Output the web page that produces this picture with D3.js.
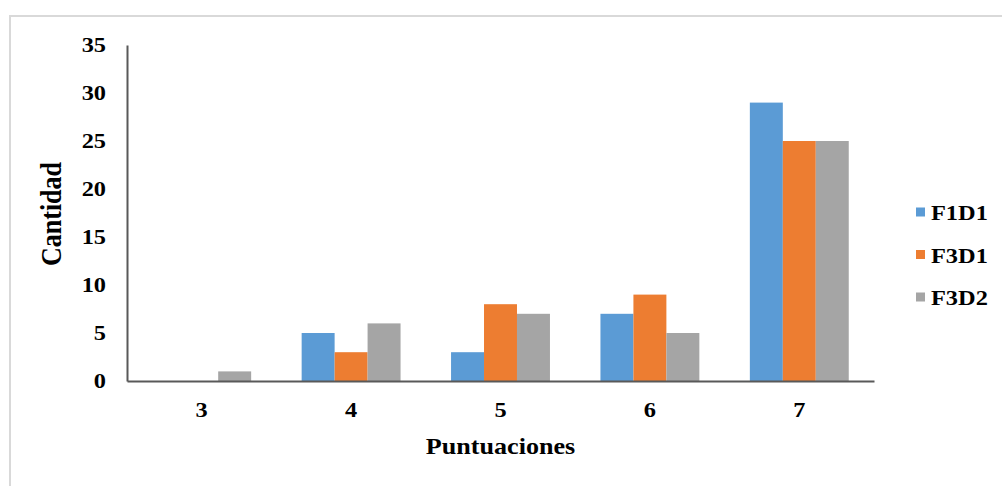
<!DOCTYPE html>
<html>
<head>
<meta charset="utf-8">
<script src="https://cdn.jsdelivr.net/npm/d3@7"></script>
<style>
  html, body { margin: 0; padding: 0; background: #fff; }
  svg { display: block; }
  svg text { font-family: "Liberation Serif", "Times New Roman", serif; font-weight: bold; fill: #000; }
</style>
</head>
<body>
<svg id="chart" width="1002" height="486"></svg>
<script>
const categories = ["3", "4", "5", "6", "7"];
const seriesNames = ["F1D1", "F3D1", "F3D2"];
const F1D1 = [0, 5, 3, 7, 29];
const F3D1 = [0, 3, 8, 9, 25];
const F3D2 = [1, 6, 7, 5, 25];
const yTicks = [0, 5, 10, 15, 20, 25, 30, 35];
const colors = ["#5b9bd5", "#ed7d31", "#a5a5a5"];

(function () {
const seriesValues = [F1D1, F3D1, F3D2];
const svg = d3.select("#chart");
const sx = 1.16;     // horizontal stretch of the reference text
const tickFont = 21;

// outer border
svg.append("rect").attr("x", 10).attr("y", 16).attr("width", 1000).attr("height", 480)
  .attr("fill", "none").attr("stroke", "#d9d9d9").attr("stroke-width", 2);

const mLeft = 127, mRight = 874, mTop = 45, mBottom = 381;

const x0 = d3.scaleBand().domain(categories).range([mLeft, mRight]).paddingInner(0.338).paddingOuter(0.169);
const x1 = d3.scaleBand().domain(seriesNames).range([0, x0.bandwidth()]);
const y = d3.scaleLinear().domain([0, 35]).range([mBottom, mTop]);

// bars
const groups = svg.append("g").selectAll("g").data(categories).join("g")
  .attr("transform", d => `translate(${x0(d)},0)`);
groups.selectAll("rect")
  .data((c, i) => seriesNames.map((s, j) => ({ s, j, v: seriesValues[j][i] })))
  .join("rect")
  .attr("x", d => x1(d.s))
  .attr("y", d => y(d.v))
  .attr("width", x1.bandwidth())
  .attr("height", d => y(0) - y(d.v))
  .attr("fill", d => colors[d.j]);

// y axis
const yAxis = d3.axisLeft(y).tickValues(yTicks).tickSize(0).tickPadding(21);
const gy = svg.append("g").attr("transform", `translate(${mLeft},0)`).call(yAxis);
gy.attr("font-family", null).attr("font-size", null);
gy.select(".domain").attr("stroke", "#595959").attr("stroke-width", 2);
gy.selectAll("text")
  .style("font-size", tickFont + "px")
  .attr("x", -21 / sx)
  .attr("transform", `scale(${sx},1)`);

// x axis
const xAxis = d3.axisBottom(x0).tickSize(0).tickPadding(21);
const gx = svg.append("g").attr("transform", `translate(0,${mBottom})`).call(xAxis);
gx.attr("font-family", null).attr("font-size", null);
gx.select(".domain").attr("stroke", "#595959").attr("stroke-width", 2);
gx.selectAll("text")
  .style("font-size", tickFont + "px")
  .attr("transform", `scale(${sx},1)`);

// axis titles
svg.append("text")
  .attr("transform", `translate(${(mLeft + mRight) / 2},454) scale(${sx},1)`)
  .attr("text-anchor", "middle").style("font-size", "22.5px").text("Puntuaciones");
svg.append("text")
  .attr("transform", `translate(61,${(mTop + mBottom) / 2 + 1}) rotate(-90) scale(1,${sx})`)
  .attr("text-anchor", "middle").style("font-size", "26px").text("Cantidad");

// legend
const legend = svg.append("g").selectAll("g").data(seriesNames).join("g")
  .attr("transform", (d, i) => `translate(916,${220 + i * 42.5})`);
legend.append("rect").attr("x", 0).attr("y", -12.5).attr("width", 9).attr("height", 9)
  .attr("fill", (d, i) => colors[i]);
legend.append("text").attr("transform", `translate(15,0) scale(${sx},1)`)
  .style("font-size", "21px").text(d => d);
})();
</script>
</body>
</html>
